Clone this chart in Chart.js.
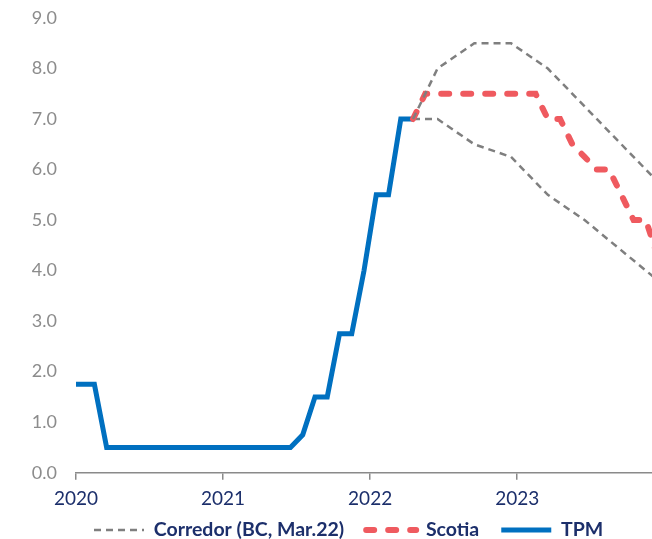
<!DOCTYPE html>
<html>
<head>
<meta charset="utf-8">
<script src="https://cdn.jsdelivr.net/npm/chart.js@4/dist/chart.umd.min.js"></script>
<style>
	html, body { margin: 0; padding: 0; background: #fff; }
	#wrap { width: 652px; height: 539px; }
</style>
</head>
<body>
<div id="wrap"><canvas id="tpmChart" width="652" height="539"></canvas></div>
<script>
// TPM: monthly values from Dec 2019 to Apr 2022
const tpmStart = '2019-12'
const tpmValues = [1.75, 1.75, 1.75, 0.5, 0.5, 0.5, 0.5, 0.5, 0.5, 0.5, 0.5, 0.5, 0.5, 0.5, 0.5, 0.5, 0.5, 0.5, 0.5,
	0.75, 1.5, 1.5, 2.75, 2.75, 4.0, 5.5, 5.5, 7.0, 7.0]

// Scotia forecast: monthly values from Apr 2022 to Dec 2023
const scotiaStart = '2022-04'
const scotiaValues = [7.0, 7.5, 7.5, 7.5, 7.5, 7.5, 7.5, 7.5, 7.5, 7.5, 7.5, 7.0, 7.0, 6.5, 6.25, 6.0, 6.0, 5.5, 5.0, 5.0, 4.25]

// Corredor (BC, Mar.22)
const corridorMonths = ['2022-04', '2022-06', '2022-09', '2022-12', '2023-03', '2023-06', '2023-09', '2023-12']
const corridorUpper = [7.0, 8.0, 8.5, 8.5, 8.0, 7.25, 6.5, 5.75]
const corridorLower = [7.0, 7.0, 6.5, 6.25, 5.5, 5.0, 4.4, 3.8]

const yearLabels = ['2020', '2021', '2022', '2023']
const seriesNames = ['Corredor (BC, Mar.22)', 'Scotia', 'TPM']

// month position, Jan 2020 = 0, points sit mid-month
const monthPos = ym => {
	const [y, m] = ym.split('-').map(Number)
	return (y - 2020) * 12 + (m - 1) + 0.5
}
const series = (start, values) => values.map((v, i) => ({ x: monthPos(start) + i, y: v }))

const navy = '#1c2f6b'
const grey = '#8a8a8a'
const legendPad = 22
const legendFont = 19.5

const data = {
	datasets: [
		{
			label: seriesNames[0],
			data: corridorMonths.map((m, i) => ({ x: monthPos(m), y: corridorUpper[i] })),
			borderColor: '#7f7f7f',
			borderWidth: 2.5,
			borderDash: [7, 5],
			pointRadius: 0
		},
		{
			label: seriesNames[1],
			data: series(scotiaStart, scotiaValues),
			borderColor: '#ef5a5f',
			borderWidth: 6,
			borderDash: [8, 14],
			borderCapStyle: 'round',
			pointRadius: 0
		},
		{
			label: seriesNames[2],
			data: series(tpmStart, tpmValues),
			borderColor: '#0070c0',
			borderWidth: 5,
			pointRadius: 0
		},
		{
			label: 'lower',
			data: corridorMonths.map((m, i) => ({ x: monthPos(m), y: corridorLower[i] })),
			borderColor: '#7f7f7f',
			borderWidth: 2.5,
			borderDash: [7, 5],
			pointRadius: 0
		}
	]
}

// move the legend row under the plot like in the original
const legendPlace = {
	id: 'legendPlace',
	afterLayout(chart) {
		const lg = chart.legend
		const start = (lg.left + legendPad + lg.right - lg.lineWidths[0]) / 2
		const dx = chart.chartArea.left + 18 - start
		const dy = chart.height - 9 - legendFont / 2 - legendPad - lg.top
		lg.left += dx
		lg.right += dx
		lg.top += dy
		lg.bottom += dy
	}
}

const config = {
	type: 'line',
	data: data,
	plugins: [legendPlace],
	options: {
		responsive: false,
		animation: false,
		clip: 0,
		layout: { padding: { top: 0, right: 0, bottom: -31, left: 0 } },
		plugins: {
			tooltip: { enabled: false },
			legend: {
				position: 'bottom',
				labels: {
					filter: item => item.datasetIndex !== 3,
					generateLabels: chart => Chart.defaults.plugins.legend.labels.generateLabels(chart).map(item => {
						const ds = chart.data.datasets[item.datasetIndex]
						item.lineDash = ds.borderDash || []
						item.lineWidth = ds.borderWidth
						item.lineCap = ds.borderCapStyle || 'butt'
						item.strokeStyle = ds.borderColor
						return item
					}),
					usePointStyle: true,
					pointStyle: 'line',
					pointStyleWidth: 50,
					color: navy,
					padding: legendPad,
					font: { family: 'Lato', size: legendFont, weight: 'bold' }
				}
			}
		},
		scales: {
			x: {
				type: 'linear',
				min: 0,
				max: 47,
				afterBuildTicks: scale => {
					scale.ticks = yearLabels.map((y, i) => ({ value: i * 12 }))
				},
				ticks: {
					callback: (v) => yearLabels[Math.round(v / 12)],
					color: navy,
					padding: 8,
					maxRotation: 0,
					autoSkip: false,
					font: { family: 'Lato', size: 19 }
				},
				grid: {
					drawOnChartArea: false,
					drawTicks: true,
					tickLength: 7,
					color: grey,
					lineWidth: 1.5
				},
				border: { display: true, color: grey, width: 1.5 }
			},
			y: {
				min: 0,
				max: 9,
				afterFit: scale => {
					scale.width = 76
					scale.paddingTop = 18
				},
				ticks: {
					stepSize: 1,
					callback: v => v.toFixed(1),
					color: '#8c8c8c',
					padding: 19,
					font: { family: 'Lato', size: 18 }
				},
				grid: { display: false, drawTicks: false },
				border: { display: false }
			}
		}
	}
}

new Chart(document.getElementById('tpmChart'), config)
</script>
</body>
</html>
